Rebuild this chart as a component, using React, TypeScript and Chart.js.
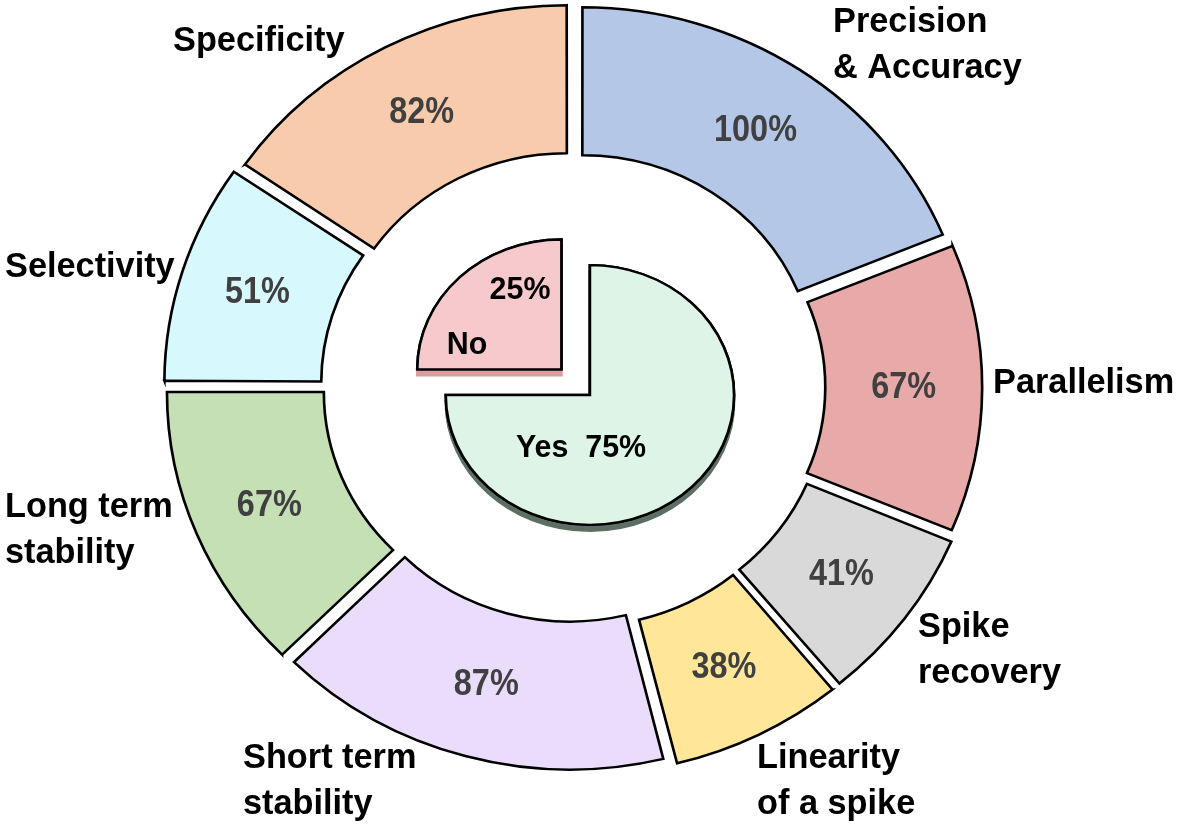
import React, { useEffect, useRef } from 'react';
import { Chart, registerables } from 'chart.js';

Chart.register(...registerables);

// ---- data ----
const CATEGORIES = [
  'Precision & Accuracy',
  'Parallelism',
  'Spike recovery',
  'Linearity of a spike',
  'Short term stability',
  'Long term stability',
  'Selectivity',
  'Specificity',
];
const CATEGORY_LINES = [
  ['Precision', '& Accuracy'],
  ['Parallelism'],
  ['Spike', 'recovery'],
  ['Linearity', 'of a spike'],
  ['Short term', 'stability'],
  ['Long term', 'stability'],
  ['Selectivity'],
  ['Specificity'],
];
const VALUES = [100, 67, 41, 38, 87, 67, 51, 82];

const PIE_LABELS = ['Yes', 'No'];
const PIE_VALUES = [75, 25];

// ---- styles ----
const RING_COLORS = ['#b4c7e7', '#e8a9a9', '#d9d9d9', '#ffe699', '#eaddfb', '#c5e0b4', '#d7f8fc', '#f8cbad'];
const PIE_COLORS = ['#ddf4e7', '#f6cacc'];
const PIE_RIM_COLORS = ['#5d6e65', '#d99da1'];
const FONT = '"Liberation Sans", Arial, sans-serif';
const SX = 1.06; // horizontal stretch of the whole drawing (ellipse look)
const PIE_SHIFT = [15, 8]; // inner pie centre shift (native px)
const PIE_SCALE = [1, 0.955]; // inner pie tilt

// label anchor offsets (left / baseline of first line) relative to chart centre
const LABEL_ANCHORS = [
  [259, -355],
  [419, 6],
  [344, 250],
  [183, 381],
  [-331, 381],
  [-569, 130],
  [-569, -110],
  [-401, -336],
];
const PIE_TEXT_POS = [
  [[7, 61]], // Yes 75%
  [[-107, -42], [-54, -97]], // No, 25%
];

const stretchPlugin = {
  id: 'stretchAndRim',
  beforeDatasetsDraw(chart: any) {
    const { ctx, chartArea } = chart;
    const cx = (chartArea.left + chartArea.right) / 2;
    ctx.save();
    ctx.translate(cx, 0);
    ctx.scale(SX, 1);
    ctx.translate(-cx, 0);
  },
  afterDatasetsDraw(chart: any) {
    chart.ctx.restore();
  },
  beforeDatasetDraw(chart: any, args: any) {
    if (args.index !== 2) return;
    const { ctx, chartArea } = chart;
    const cx = (chartArea.left + chartArea.right) / 2;
    const cy = (chartArea.top + chartArea.bottom) / 2;
    ctx.save();
    ctx.translate(cx + PIE_SHIFT[0], cy + PIE_SHIFT[1]);
    ctx.scale(PIE_SCALE[0], PIE_SCALE[1]);
    ctx.translate(-cx, -cy);
    args.meta.data.forEach((el: any, i: number) => {
      ctx.save();
      ctx.shadowColor = PIE_RIM_COLORS[i];
      ctx.shadowOffsetY = 6;
      ctx.shadowBlur = 0;
      el.draw(ctx);
      ctx.restore();
    });
  },
  afterDatasetDraw(chart: any, args: any) {
    if (args.index !== 2) return;
    chart.ctx.restore();
  },
};

function drawText(ctx: CanvasRenderingContext2D, text: string, x: number, y: number, sx: number) {
  ctx.save();
  ctx.translate(x, y);
  ctx.scale(sx, 1);
  ctx.fillText(text, 0, 0);
  ctx.restore();
}

const labelPlugin = {
  id: 'labels',
  afterDraw(chart: any) {
    const { ctx, chartArea } = chart;
    const cx = (chartArea.left + chartArea.right) / 2;
    const cy = (chartArea.top + chartArea.bottom) / 2;
    ctx.save();
    // percentages inside ring segments
    ctx.font = `bold 36px ${FONT}`;
    ctx.fillStyle = '#404040';
    ctx.textAlign = 'center';
    ctx.textBaseline = 'middle';
    const meta = chart.getDatasetMeta(0);
    meta.data.forEach((el: any, i: number) => {
      const p = el.getProps(['startAngle', 'endAngle', 'innerRadius', 'outerRadius', 'circumference']);
      const half = (p.startAngle + p.endAngle) / 2;
      const t = (el.options.offset || 0) / 4;
      const fix = 1 - Math.sin(Math.min(Math.PI, p.circumference));
      const r = (p.innerRadius + p.outerRadius) / 2 + t + t * fix;
      const x = cx + SX * Math.cos(half) * r;
      const y = cy + Math.sin(half) * r;
      drawText(ctx, `${VALUES[i]}%`, x, y, 0.9);
    });
    // category labels
    ctx.font = `bold 35px ${FONT}`;
    ctx.fillStyle = '#000';
    ctx.textAlign = 'left';
    ctx.textBaseline = 'alphabetic';
    CATEGORY_LINES.forEach((lines, i) => {
      const [dx, dy] = LABEL_ANCHORS[i];
      lines.forEach((ln, j) => drawText(ctx, ln, cx + dx, cy + dy + j * 46, 0.98));
    });
    // pie labels
    ctx.font = `bold 32px ${FONT}`;
    ctx.textAlign = 'center';
    ctx.textBaseline = 'middle';
    const yesText = `${PIE_LABELS[0]}  ${PIE_VALUES[0]}%`;
    drawText(ctx, yesText, cx + PIE_TEXT_POS[0][0][0], cy + PIE_TEXT_POS[0][0][1], 0.95);
    drawText(ctx, PIE_LABELS[1], cx + PIE_TEXT_POS[1][0][0], cy + PIE_TEXT_POS[1][0][1], 0.95);
    drawText(ctx, `${PIE_VALUES[1]}%`, cx + PIE_TEXT_POS[1][1][0], cy + PIE_TEXT_POS[1][1][1], 0.95);
    ctx.restore();
  },
};

export default function App() {
  const ref = useRef<HTMLCanvasElement | null>(null);
  useEffect(() => {
    if (!ref.current) return;
    const chart = new Chart(ref.current, {
      type: 'doughnut',
      data: {
        labels: CATEGORIES,
        datasets: [
          {
            data: VALUES,
            backgroundColor: RING_COLORS,
            borderColor: '#000',
            borderWidth: 2.5,
            borderJoinStyle: 'miter',
            weight: 148,
            offset: 56,
          } as any,
          {
            data: [1],
            backgroundColor: 'rgba(0,0,0,0)',
            borderWidth: 0,
            weight: 83,
          } as any,
          {
            data: PIE_VALUES,
            backgroundColor: PIE_COLORS,
            borderColor: '#000',
            borderWidth: 2.5,
            borderJoinStyle: 'miter',
            weight: 136,
            offset: [0, 152],
          } as any,
        ],
      },
      options: {
        responsive: false,
        animation: false,
        events: [],
        radius: 367,
        cutout: 0,
        clip: false,
        layout: { padding: { left: 0, right: 32, top: 0, bottom: 54 } },
        plugins: { legend: { display: false }, tooltip: { enabled: false } },
      } as any,
      plugins: [stretchPlugin, labelPlugin],
    });
    return () => chart.destroy();
  }, []);
  return (
    <div style={{ position: 'absolute', left: 0, top: 0, width: 1180, height: 828, background: '#fff' }}>
      <canvas ref={ref} width={1180} height={828} style={{ width: '1180px', height: '828px', display: 'block' }} />
    </div>
  );
}
